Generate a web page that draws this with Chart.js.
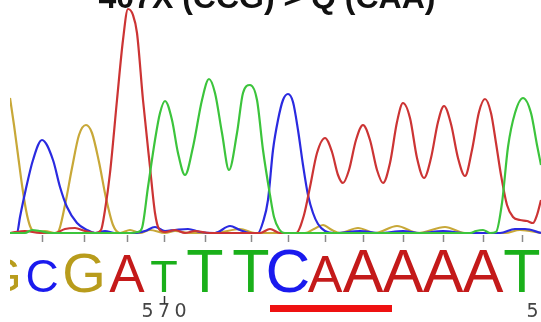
<!DOCTYPE html>
<html><head><meta charset="utf-8">
<script src="https://cdn.jsdelivr.net/npm/chart.js@4"></script>
<style>html,body{margin:0;padding:0;background:#fff;overflow:hidden}#wrap{width:541px;height:322px;position:relative}</style>
</head><body><div id="wrap"><canvas id="c" width="541" height="322"></canvas></div>
<script>
// ---- data (scan position, signal intensity) ----
const titleText = '407X (CCG) > Q (CAA)';
const traceT = [[0,0],[15,0],[22,3],[30,2],[40,0],[120,0],[128,1],[132,5],[138,46],[145,93],[150,120],[155,132],[162,113],[168,80],[175,58],[183,86],[192,133],[199,154],[205,140],[212,100],[219,63],[227,100],[233,140],[240,148],[247,133],[253,83],[260,38],[264,16],[269,4],[275,0],[460,0],[466,2],[473,3],[480,0],[486,1],[492,30],[498,86],[505,120],[513,135],[521,120],[527,88],[531,68]];
const traceA = [[0,0],[15,2],[30,0],[45,0],[55,4],[65,5],[75,2],[85,0],[91,3],[95,23],[100,60],[107,133],[113,193],[118,224],[123,218],[127,200],[133,133],[140,66],[145,20],[149,4],[155,1],[165,3],[175,0],[185,2],[200,0],[250,0],[260,4],[270,0],[286,0],[294,18],[300,46],[307,80],[315,95],[322,81],[328,58],[333,50],[339,63],[346,93],[353,108],[360,93],[367,63],[373,50],[380,70],[387,111],[393,130],[400,115],[407,75],[414,55],[421,75],[428,111],[434,127],[441,109],[448,75],[455,57],[462,83],[469,121],[475,134],[481,120],[486,90],[491,58],[497,28],[503,16],[510,13],[517,12],[523,10],[527,18],[531,33]];
const traceC = [[0,0],[7,0],[10,16],[15,40],[23,73],[32,93],[43,73],[50,46],[57,26],[67,10],[77,3],[85,0],[95,2],[105,0],[125,0],[135,2],[145,6],[155,2],[165,3],[178,4],[190,1],[205,0],[220,7],[230,3],[240,0],[248,0],[253,11],[258,33],[263,83],[268,113],[273,133],[278,139],[283,131],[288,103],[293,68],[298,38],[303,20],[308,9],[315,2],[325,0],[350,2],[370,0],[393,2],[410,0],[433,2],[455,0],[490,0],[505,4],[515,4],[531,0]];
const traceG = [[0,135],[4,108],[8,78],[12,48],[16,23],[20,7],[25,1],[35,2],[45,0],[48,1],[55,28],[62,65],[69,98],[76,108],[82,100],[89,71],[96,35],[103,8],[110,0],[120,3],[130,0],[140,3],[155,0],[165,2],[180,0],[205,0],[230,4],[245,0],[295,0],[304,4],[313,8],[322,3],[330,0],[348,5],[365,0],[387,7],[408,0],[435,6],[455,0],[495,0],[510,3],[531,0]];
const baseCalls = ['G','C','G','A','T','T','T','C','A','A','A','A','A','T'];
const basePositions = [-7,32,74,117,154,195,241,278,315,353,393,433,473,512];
const firstBaseNumber = 566;
const rulerLabels = ['570','580'];
const rulerPositions = [154,539];
const codonBases = [573,575];

// ---- styles ----
const traceColors = {A:'#cc3434', C:'#2a2ae0', G:'#c8a838', T:'#3cc43c'};
const letterColors = {A:'#c41a1a', C:'#1a1aee', G:'#b89c1c', T:'#1ab01a'};
const letterSizes = [48,46,56,53,45,61,61,62,52,61,61,61,61,61];

const pts = a => a.map(([x,y]) => ({x, y}));
const ds = (name, arr) => ({label:name, data:pts(arr), borderColor:traceColors[name], borderWidth:2.2,
  pointRadius:0, fill:false, cubicInterpolationMode:'monotone', clip:0});

const overlay = {
  id:'overlay',
  afterDatasetsDraw(chart){
    const ctx = chart.ctx, xs = chart.scales.x, area = chart.chartArea;
    ctx.save();
    // title (top cut by canvas edge)
    ctx.fillStyle = '#111';
    ctx.font = 'bold 32px "Liberation Sans", Arial, sans-serif';
    ctx.textAlign = 'center'; ctx.textBaseline = 'alphabetic';
    ctx.fillText(titleText, 267, 8);
    // clip to plot width
    ctx.beginPath(); ctx.rect(area.left, 0, area.right - area.left, chart.height); ctx.clip();
    // base ticks
    ctx.strokeStyle = '#8a8a8a'; ctx.lineWidth = 1.5;
    basePositions.forEach(p => {
      const px = Math.round(xs.getPixelForValue(p)) + 0.5;
      ctx.beginPath(); ctx.moveTo(px, 235); ctx.lineTo(px, 242); ctx.stroke();
    });
    // base call letters
    baseCalls.forEach((b, i) => {
      ctx.fillStyle = letterColors[b];
      ctx.font = letterSizes[i] + 'px "Liberation Sans", Arial, sans-serif';
      ctx.textAlign = 'center';
      ctx.fillText(b, xs.getPixelForValue(basePositions[i]), 292);
    });
    // ruler numbers
    ctx.fillStyle = '#444';
    ctx.font = '19px "DejaVu Sans", sans-serif';
    rulerLabels.forEach((lab, i) => {
      const cx = xs.getPixelForValue(rulerPositions[i]);
      [...lab].forEach((d, k) => ctx.fillText(d, cx + (k - 1) * 16.5, 317));
      ctx.strokeStyle = '#333'; ctx.lineWidth = 1.5;
      ctx.beginPath(); ctx.moveTo(Math.round(cx) + 0.5, 296); ctx.lineTo(Math.round(cx) + 0.5, 304); ctx.stroke();
    });
    // codon underline
    const i0 = codonBases[0] - firstBaseNumber, i1 = codonBases[1] - firstBaseNumber;
    const x0 = xs.getPixelForValue(basePositions[i0]) - 18, x1 = xs.getPixelForValue(basePositions[i1]) + 29;
    ctx.fillStyle = '#ee1111';
    ctx.fillRect(x0, 305, x1 - x0, 7);
    ctx.restore();
  }
};

new Chart(document.getElementById('c'), {
  type:'line',
  data:{datasets:[ds('T', traceT), ds('A', traceA), ds('C', traceC), ds('G', traceG)]},
  options:{
    responsive:false, animation:false, devicePixelRatio:1,
    layout:{padding:{left:10, right:0, top:0, bottom:87}},
    plugins:{legend:{display:false}, tooltip:{enabled:false}, title:{display:false}},
    scales:{
      x:{type:'linear', min:0, max:531, display:false},
      y:{type:'linear', min:-2, max:233, display:false}
    }
  },
  plugins:[overlay]
});
</script></body></html>
